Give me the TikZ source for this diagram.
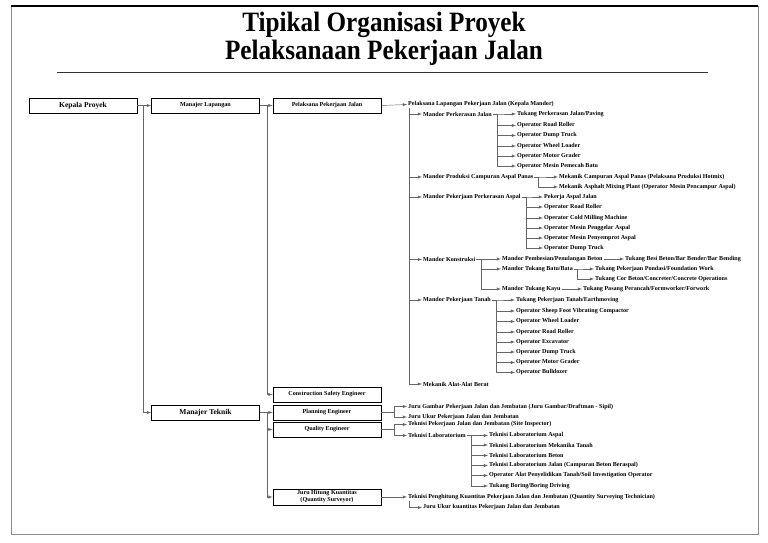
\documentclass[tikz,border=0pt]{standalone}
\usepackage{fontspec}
\setmainfont{Liberation Serif}
\usepackage{tikz}

\tikzset{
  orgbox/.style={draw=black, line width=0.9pt, minimum width=108pt, minimum height=15pt,
    inner sep=0pt, align=center, font=\fontsize{6.1}{7}\selectfont\bfseries},
  bigbox/.style={orgbox, font=\fontsize{7.5}{8}\selectfont\bfseries},
  job/.style={anchor=west, inner sep=1pt, font=\fontsize{6.1}{7}\selectfont\bfseries},
  conn/.style={->, >=latex, draw=black!60, line width=0.45pt},
}

\begin{document}
\begin{tikzpicture}[x=1pt, y=-1pt]
  \useasboundingbox (0,0) rectangle (768,543);
  % frame and title
  \draw[black!45, line width=0.8pt] (11,6) rectangle (758,534);
  \draw[black, line width=1.2pt] (11,6) -- (758,6);
  \node (t1) at (384,25) {\fontsize{28}{30}\selectfont\bfseries\scalebox{0.9}[1]{Tipikal Organisasi Proyek}};
  \node (t2) at (384,53) {\fontsize{28}{30}\selectfont\bfseries\scalebox{0.9}[1]{Pelaksanaan Pekerjaan Jalan}};
  \draw[black!80, line width=0.8pt] (57,72) -- (708,72);

  % boxes
  \node[bigbox] (kp) at (83,105.5) {Kepala Proyek};
  \node[orgbox] (ml) at (205.5,105.5) {Manajer Lapangan};
  \node[orgbox] (ppj) at (327,105.5) {Pelaksana Pekerjaan Jalan};
  \node[orgbox] (cse) at (327,394.5) {Construction Safety Engineer};
  \node[bigbox] (mt) at (205.5,412.5) {Manajer Teknik};
  \node[orgbox] (pe) at (327,412.5) {Planning Engineer};
  \node[orgbox] (qe) at (327,429.5) {Quality Engineer};
  \node[orgbox, minimum height=16pt] (jhk) at (327,497) {Juru Hitung Kuantitas\\(Quantity Surveyor)};

  % arrows between boxes
  \draw[conn] (kp.east) -- ++(6,0) |- (ml.west);
  \draw[conn] (kp.east) -- ++(6,0) |- (mt.west);
  \draw[conn] (ml.east) -- ++(7,0) |- (ppj.west);
  \draw[conn] (ml.east) -- ++(7,0) |- (cse.west);
  \foreach \b in {pe,qe,jhk}
    \draw[conn] (mt.east) -- ++(7,0) |- (\b.west);

  % pelaksana lapangan and mandor
  \node[job] (plk) at (407,104.5) {Pelaksana Lapangan Pekerjaan Jalan (Kepala Mandor)};
  \draw[conn] (ppj.east) -- (plk.west);
  \node[job] (m1) at (422,114) {Mandor Perkerasan Jalan};
  \node[job] (m2) at (422,177) {Mandor Produksi Campuran Aspal Panas};
  \node[job] (m3) at (422,197) {Mandor Pekerjaan Perkerasan Aspal};
  \node[job] (m4) at (422,259.5) {Mandor Konstruksi};
  \node[job] (m5) at (422,300) {Mandor Pekerjaan Tanah};
  \node[job] (m6) at (422,384) {Mekanik Alat-Alat Berat};
  \foreach \i in {1,...,6}
    \draw[conn] ([xshift=2pt]plk.south west) |- (m\i.west);

  % mandor perkerasan jalan
  \node[job] (a1) at (516,114) {Tukang Perkerasan Jalan/Paving};
  \node[job] (a2) at (516,125.5) {Operator Road Roller};
  \node[job] (a3) at (516,135.5) {Operator Dump Truck};
  \node[job] (a4) at (516,146) {Operator Wheel Loader};
  \node[job] (a5) at (516,156) {Operator Motor Grader};
  \node[job] (a6) at (516,166) {Operator Mesin Pemecah Batu};
  \foreach \i in {1,...,6}
    \draw[conn] (m1.east) -- ++(4,0) |- (a\i.west);

  % mandor produksi campuran aspal panas
  \node[job] (b1) at (558,177) {Mekanik Campuran Aspal Panas (Pelaksana Produksi Hotmix)};
  \node[job] (b2) at (558,187) {Mekanik Asphalt Mixing Plant (Operator Mesin Pencampur Aspal)};
  \foreach \i in {1,2}
    \draw[conn] (m2.east) -- ++(4,0) |- (b\i.west);

  % mandor pekerjaan perkerasan aspal
  \node[job] (c1) at (543,197) {Pekerja Aspal Jalan};
  \node[job] (c2) at (543,207) {Operator Road Roller};
  \node[job] (c3) at (543,218) {Operator Cold Milling Machine};
  \node[job] (c4) at (543,228) {Operator Mesin Penggelar Aspal};
  \node[job] (c5) at (543,238) {Operator Mesin Penyemprot Aspal};
  \node[job] (c6) at (543,248) {Operator Dump Truck};
  \foreach \i in {1,...,6}
    \draw[conn] (m3.east) -- ++(4,0) |- (c\i.west);

  % mandor konstruksi
  \node[job] (d1) at (501,259) {Mandor Pembesian/Penulangan Beton};
  \node[job] (d2) at (501,269) {Mandor Tukang Batu/Bata};
  \node[job] (d3) at (501,289) {Mandor Tukang Kayu};
  \foreach \i in {1,2,3}
    \draw[conn] (m4.east) -- ++(5,0) |- (d\i.west);
  \node[job] (e1) at (624,259) {Tukang Besi Beton/Bar Bender/Bar Bending};
  \node[job] (e2) at (594,269) {Tukang Pekerjaan Pondasi/Foundation Work};
  \node[job] (e3) at (594,279) {Tukang Cor Beton/Concreter/Concrete Operations};
  \node[job] (e4) at (582,289) {Tukang Pasang Perancah/Formworker/Forwork};
  \draw[conn] (d1.east) -- (e1.west);
  \draw[conn] (d2.east) -- ++(3,0) |- (e2.west);
  \draw[conn] (d2.east) -- ++(3,0) |- (e3.west);
  \draw[conn] (d3.east) -- (e4.west);

  % mandor pekerjaan tanah
  \node[job] (f1) at (515,300) {Tukang Pekerjaan Tanah/Earthmoving};
  \node[job] (f2) at (515,311) {Operator Sheep Foot Vibrating Compactor};
  \node[job] (f3) at (515,321.5) {Operator Wheel Loader};
  \node[job] (f4) at (515,332) {Operator Road Roller};
  \node[job] (f5) at (515,342) {Operator Excavator};
  \node[job] (f6) at (515,352) {Operator Dump Truck};
  \node[job] (f7) at (515,362.5) {Operator Motor Grader};
  \node[job] (f8) at (515,372.5) {Operator Bulldozer};
  \foreach \i in {1,...,8}
    \draw[conn] (m5.east) -- ++(4,0) |- (f\i.west);

  % planning engineer
  \node[job] (g1) at (407,406.5) {Juru Gambar Pekerjaan Jalan dan Jembatan (Juru Gambar/Draftman - Sipil)};
  \node[job] (g2) at (407,417) {Juru Ukur Pekerjaan Jalan dan Jembatan};
  \foreach \i in {1,2}
    \draw[conn] (pe.east) -- ++(13,0) |- (g\i.west);

  % quality engineer
  \node[job] (h1) at (407,424.5) {Teknisi Pekerjaan Jalan dan Jembatan (Site Inspector)};
  \node[job] (h2) at (407,435.5) {Teknisi Laboratorium};
  \foreach \i in {1,2}
    \draw[conn] (qe.east) -- ++(13,0) |- (h\i.west);
  \node[job] (k1) at (488,435.5) {Teknisi Laboratorium Aspal};
  \node[job] (k2) at (488,445) {Teknisi Laboratorium Mekanika Tanah};
  \node[job] (k3) at (488,455.5) {Teknisi Laboratorium Beton};
  \node[job] (k4) at (488,465.5) {Teknisi Laboratorium Jalan (Campuran Beton Beraspal)};
  \node[job] (k5) at (488,475.5) {Operator Alat Penyelidikan Tanah/Soil Investigation Operator};
  \node[job] (k6) at (488,486) {Tukang Boring/Boring Driving};
  \foreach \i in {1,...,6}
    \draw[conn] (h2.east) -- ++(4,0) |- (k\i.west);

  % juru hitung kuantitas
  \node[job] (q1) at (407,497) {Teknisi Penghitung Kuantitas Pekerjaan Jalan dan Jembatan (Quantity Surveying Technician)};
  \node[job] (q2) at (422,507.5) {Juru Ukur kuantitas Pekerjaan Jalan dan Jembatan};
  \draw[conn] (jhk.east) -- (q1.west);
  \draw[conn] ([xshift=2pt]q1.south west) |- (q2.west);
\end{tikzpicture}
\end{document}
